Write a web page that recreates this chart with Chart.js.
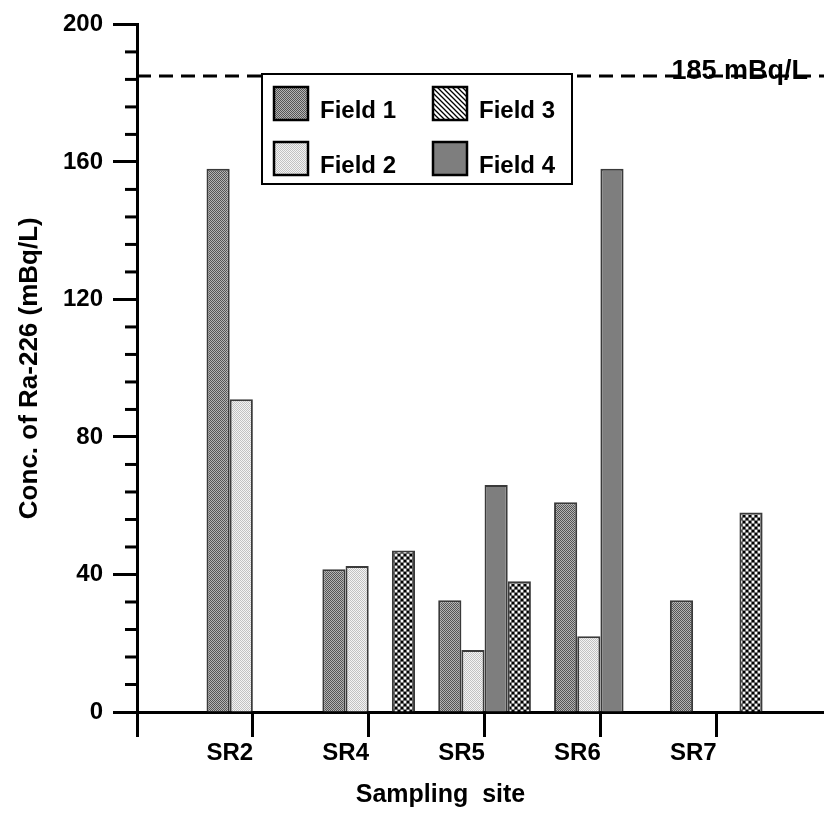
<!DOCTYPE html>
<html>
<head>
<meta charset="utf-8">
<title>Ra-226 by sampling site</title>
<script src="https://cdn.jsdelivr.net/npm/chart.js@4.4.1/dist/chart.umd.min.js"></script>
<style>
  html, body { margin: 0; padding: 0; background: #fff; overflow: hidden; }
  canvas { display: block; }
</style>
</head>
<body>
<canvas id="raChart" width="824" height="816"></canvas>
<script>
// Sites and measured Ra-226 concentrations (mBq/L), null = not sampled
const sites = ['SR2', 'SR4', 'SR5', 'SR6', 'SR7'];
const field1 = [158, 41.5, 32.5, 61, 32.5];
const field2 = [91, 42.5, 18, 22, null];
const field4 = [null, null, 66, 158, null];
const field3 = [null, 47, 38, null, 58];

// Axis settings
const yMin = 0;
const yMax = 200;
const yStep = 40;
const yMinorStep = 8;

// Guideline
const limitValue = 185;
const limitLabel = '185 mBq/L';

const FONT = '"Liberation Sans", Arial, Helvetica, sans-serif';

// Fill patterns for the bars
function makePattern(size, draw) {
    const tile = document.createElement('canvas');
    tile.width = size;
    tile.height = size;
    const g = tile.getContext('2d');
    draw(g, size);
    return document.createElement('canvas').getContext('2d').createPattern(tile, 'repeat');
}

function checker(dark, light) {
    return makePattern(2, (g) => {
        g.fillStyle = light;
        g.fillRect(0, 0, 2, 2);
        g.fillStyle = dark;
        g.fillRect(0, 0, 1, 1);
        g.fillRect(1, 1, 1, 1);
    });
}

const fill1 = checker('#555', '#b4b4b4');
const fill2 = checker('#c2c2c2', '#f4f4f4');
const fill4 = '#7e7e7e';

// crosshatch with black knots
const fill3 = makePattern(6, (g, s) => {
    g.fillStyle = '#f6f6f6';
    g.fillRect(0, 0, s, s);
    g.strokeStyle = '#6a6a6a';
    g.lineWidth = 1.3;
    g.beginPath();
    g.moveTo(0, 0); g.lineTo(s, s);
    g.moveTo(s, 0); g.lineTo(0, s);
    g.stroke();
    g.fillStyle = '#000';
    [[0, 0], [s, 0], [0, s], [s, s], [s / 2, s / 2]].forEach(([px, py]) => {
        g.beginPath();
        g.arc(px, py, 1.6, 0, Math.PI * 2);
        g.fill();
    });
});

// legend swatch for Field 3 uses plain diagonal hatching
const hatch3 = makePattern(5, (g, s) => {
    g.fillStyle = '#fff';
    g.fillRect(0, 0, s, s);
    g.strokeStyle = '#000';
    g.lineWidth = 1.3;
    g.beginPath();
    g.moveTo(-1, -1); g.lineTo(s + 1, s + 1);
    g.moveTo(-1, s - 1); g.lineTo(1, s + 1);
    g.moveTo(s - 1, -1); g.lineTo(s + 1, 1);
    g.stroke();
});

const toPoints = arr => arr.map((v, i) => ({ x: i + 1, y: v }));

function barSet(label, values, fill) {
    return {
        label: label,
        data: toPoints(values),
        backgroundColor: fill,
        borderColor: '#3a3a3a',
        borderWidth: 2,
        barPercentage: 1.0,
        categoryPercentage: 0.8
    };
}

const legendItems = [
    { label: 'Field 1', fill: fill1, col: 0, row: 0 },
    { label: 'Field 3', fill: hatch3, col: 1, row: 0 },
    { label: 'Field 2', fill: fill2, col: 0, row: 1 },
    { label: 'Field 4', fill: fill4, col: 1, row: 1 }
];

// minor ticks, limit line, legend and axis titles
const extras = {
    id: 'extras',
    afterDraw(chart) {
        const { ctx, chartArea: a, scales: { y } } = chart;
        ctx.save();

        ctx.strokeStyle = '#000';
        ctx.lineWidth = 3;
        for (let v = yMin + yMinorStep; v < yMax; v += yMinorStep) {
            if (v % yStep === 0) continue;
            const py = y.getPixelForValue(v);
            ctx.beginPath();
            ctx.moveTo(a.left - 12, py);
            ctx.lineTo(a.left, py);
            ctx.stroke();
        }

        const ly = y.getPixelForValue(limitValue);
        ctx.setLineDash([14, 8]);
        ctx.lineWidth = 3;
        ctx.beginPath();
        ctx.moveTo(a.left, ly);
        ctx.lineTo(a.right, ly);
        ctx.stroke();
        ctx.setLineDash([]);

        ctx.fillStyle = '#000';
        ctx.font = 'bold 27px ' + FONT;
        ctx.textAlign = 'right';
        ctx.textBaseline = 'alphabetic';
        ctx.fillText(limitLabel, a.right - 16, ly + 3);

        // legend
        const box = { left: 262, top: 74, width: 310, height: 110 };
        ctx.fillStyle = '#fff';
        ctx.fillRect(box.left, box.top, box.width, box.height);
        ctx.lineWidth = 2;
        ctx.strokeStyle = '#000';
        ctx.strokeRect(box.left, box.top, box.width, box.height);

        ctx.font = 'bold 24px ' + FONT;
        ctx.textAlign = 'left';
        legendItems.forEach(item => {
            const sx = box.left + 12 + item.col * 159;
            const sy = box.top + 13 + item.row * 55;
            ctx.fillStyle = item.fill;
            ctx.fillRect(sx, sy, 34, 33);
            ctx.lineWidth = 2.5;
            ctx.strokeRect(sx, sy, 34, 33);
            ctx.fillStyle = '#000';
            ctx.fillText(item.label, sx + 46, sy + 31);
        });

        // axis titles
        ctx.font = 'bold 25px ' + FONT;
        ctx.textAlign = 'center';
        ctx.fillText('Sampling  site', a.left + (a.right - a.left) / 2 - 40, a.bottom + 90);

        ctx.save();
        ctx.translate(30, (a.top + a.bottom) / 2);
        ctx.rotate(-Math.PI / 2);
        ctx.font = 'bold 26px ' + FONT;
        ctx.textBaseline = 'middle';
        ctx.fillText('Conc. of Ra-226 (mBq/L)', 0, 0);
        ctx.restore();

        ctx.restore();
    }
};

const ctx = document.getElementById('raChart').getContext('2d');
const raChart = new Chart(ctx, {
    type: 'bar',
    data: {
        datasets: [
            barSet('Field 1', field1, fill1),
            barSet('Field 2', field2, fill2),
            barSet('Field 4', field4, fill4),
            barSet('Field 3', field3, fill3)
        ]
    },
    options: {
        responsive: false,
        animation: false,
        devicePixelRatio: 1,
        layout: { padding: { top: 20, right: 0, left: 0, bottom: 0 } },
        plugins: {
            legend: { display: false },
            tooltip: { enabled: false }
        },
        scales: {
            x: {
                type: 'linear',
                min: 0,
                max: 5.93,
                offset: false,
                afterFit: s => { s.height = 104; },
                afterBuildTicks: s => { s.ticks = s.ticks.filter(t => Number.isInteger(t.value)); },
                ticks: {
                    stepSize: 1,
                    autoSkip: false,
                    maxRotation: 0,
                    labelOffset: -23,
                    padding: 2,
                    color: '#000',
                    font: { family: FONT, size: 24, weight: 'bold' },
                    callback: v => sites[v - 1] || ''
                },
                grid: {
                    offset: false,
                    drawOnChartArea: false,
                    drawTicks: true,
                    tickLength: 25,
                    tickWidth: 3,
                    tickColor: '#000'
                },
                border: { display: true, color: '#000', width: 3 }
            },
            y: {
                min: yMin,
                max: yMax,
                afterFit: s => { s.width = 137; },
                ticks: {
                    stepSize: yStep,
                    padding: 10,
                    color: '#000',
                    font: { family: FONT, size: 24, weight: 'bold' }
                },
                grid: {
                    drawOnChartArea: false,
                    drawTicks: true,
                    tickLength: 24,
                    tickWidth: 3,
                    tickColor: '#000'
                },
                border: { display: true, color: '#000', width: 3 }
            }
        }
    },
    plugins: [extras]
});
</script>
</body>
</html>
